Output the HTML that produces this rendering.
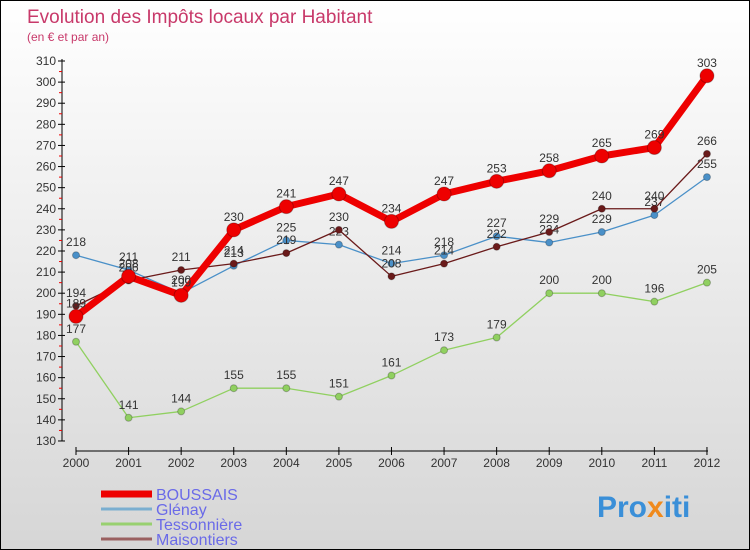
<!DOCTYPE html>
<html><head><meta charset="utf-8"><style>
body{margin:0}
#c{width:750px;height:550px;position:relative;box-sizing:border-box;border:1px solid #000;background:linear-gradient(#fff,#d6d6d6);font-family:"Liberation Sans",sans-serif;overflow:hidden}
</style></head><body>
<div id="c">
<svg id="s" width="750" height="550" style="position:absolute;left:0;top:0">
<text x="26" y="22" font-size="19" fill="#c8396a">Evolution des Impôts locaux par Habitant</text>
<text x="26" y="40" font-size="12" fill="#c8396a">(en € et par an)</text>
<text x="596" y="516" font-size="30" font-weight="bold" fill="#3a8fd8">Pro<tspan fill="#f08a1c">x</tspan>iti</text>
</svg>
</div>
<script>
const years=["2000","2001","2002","2003","2004","2005","2006","2007","2008","2009","2010","2011","2012"];
const yTicks=[130,140,150,160,170,180,190,200,210,220,230,240,250,260,270,280,290,300,310];
const boussais=[189,208,199,230,241,247,234,247,253,258,265,269,303];
const glenay=[218,211,200,213,225,223,214,218,227,224,229,237,255];
const tessonniere=[177,141,144,155,155,151,161,173,179,200,200,196,205];
const maisontiers=[194,206,211,214,219,230,208,214,222,229,240,240,266];
const seriesNames=["BOUSSAIS","Glénay","Tessonnière","Maisontiers"];
const NS="http://www.w3.org/2000/svg";
const s=document.getElementById('s');
const X=i=>75+i*52.58;
const Y=v=>60+(310-v)*2.111;
function el(t,a,p){const e=document.createElementNS(NS,t);for(const k in a)e.setAttribute(k,a[k]);(p||s).appendChild(e);return e;}
// axes
const ya=el('line',{x1:61,y1:58,x2:61,y2:440,stroke:'#000'});


yTicks.forEach(v=>{
  el('line',{x1:57,x2:64,y1:Y(v),y2:Y(v),stroke:'#000'});
  if(v<310)el('line',{x1:58,x2:61,y1:Y(v+5),y2:Y(v+5),stroke:'#e00'});
  const t=el('text',{x:55,y:Y(v)+4,'text-anchor':'end','font-size':12,fill:'#333'});t.textContent=v;
  
  
});
const xa=el('line',{x1:75,y1:450,x2:707,y2:450,stroke:'#000'});


years.forEach((y,i)=>{
  el('line',{x1:X(i),x2:X(i),y1:446,y2:454,stroke:'#000'});
  const t=el('text',{x:X(i),y:466,'text-anchor':'middle','font-size':12,fill:'#333'});t.textContent=y;
  
  
});
function series(data,color,w,r,name){
  const g=el('g',{});
  
  
  el('polyline',{points:data.map((v,i)=>X(i)+','+Y(v)).join(' '),fill:'none',stroke:color,'stroke-width':w,'stroke-linejoin':'round'},g);
  data.forEach((v,i)=>{
    const c=el('circle',{cx:X(i),cy:Y(v),r:r,fill:color,stroke:'rgba(0,0,0,0.25)'},g);
    
    
    const t=el('text',{x:X(i),y:Y(v)-9,'text-anchor':'middle','font-size':12,fill:'#333'},g);t.textContent=v;
    
    
  });
}
series(tessonniere,'#90d060',1.3,3.5,'tessonniere');
series(glenay,'#4a90c8',1.3,3.5,'glenay');
series(maisontiers,'#6a1a1a',1.3,3.5,'maisontiers');
series(boussais,'#ee0000',7,7,'boussais');
// legend
const lc=['#ee0000','#7aaed0','#98d070','#9a6060'],lw=[7,3,3,3];
seriesNames.forEach((n,i)=>{
  const y=493+i*15;
  const l=el('line',{x1:100,x2:151,y1:y,y2:y,stroke:lc[i],'stroke-width':lw[i]});
  
  
  const t=el('text',{x:155,y:y+6,'font-size':16,fill:'#6a6ae8'});t.textContent=n;
  
  
});
</script>
</body></html>
